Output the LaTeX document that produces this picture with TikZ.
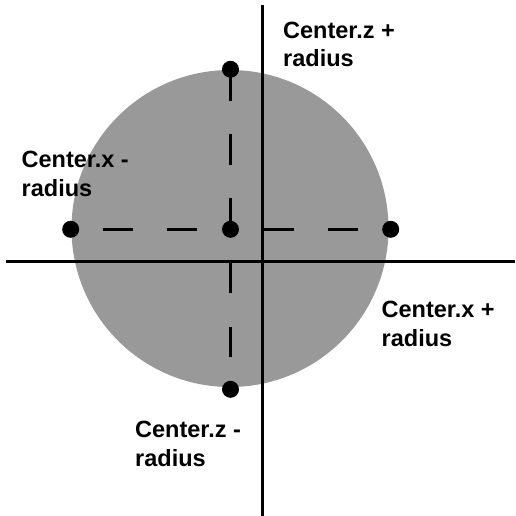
\documentclass[tikz,border=0pt]{standalone}
\usepackage{fontspec}
\setmainfont{Liberation Sans}
\definecolor{discgray}{HTML}{999999}
\tikzset{
  dotnode/.style={circle,fill=black,inner sep=0pt,minimum size=17pt},
  axisline/.style={line width=3pt,black},
  dashline/.style={line width=3pt,black,dash pattern=on 30pt off 34pt},
  lbl/.style={anchor=base west,inner sep=0pt,align=left,font=\bfseries\fontsize{23.5}{28.4}\selectfont}
}
\begin{document}
\begin{tikzpicture}[x=1pt,y=-1pt]
\useasboundingbox (0,0) rectangle (515,516);
\fill[discgray] (230,228.5) circle (158.5);
% axes
\coordinate (vt) at (262,5);
\coordinate (vb) at (262,516);
\coordinate (hl) at (6,261);
\coordinate (hr) at (515,261);
\draw[axisline] (vt) -- (vb);
\draw[axisline] (hl) -- (hr);
% points
\node[dotnode] (ctr) at (230.5,229.3) {};
\node[dotnode] (top) at (230.5,69.3) {};
\node[dotnode] (bot) at (230.5,389.3) {};
\node[dotnode] (lft) at (70.7,229.3) {};
\node[dotnode] (rgt) at (390.7,229.3) {};
% dashed lines
\draw[dashline,dash pattern=on 31pt off 33pt,dash phase=0pt] (ctr.center) -- (top.center);
\draw[dashline,dash phase=30pt] (ctr.center) -- (bot.center);
\draw[dashline,dash phase=32pt] (lft.center) -- (ctr.center);
\draw[dashline,dash phase=31pt] (ctr.center) -- (rgt.center);
% labels (anchor is the baseline of the last line)
\node[lbl] (lzp) at (283,66.7) {Center.z +\\radius};
\node[lbl] (lxm) at (21.5,196.2) {Center.x -\\radius};
\node[lbl] (lxp) at (381.5,346.3) {Center.x +\\radius};
\node[lbl] (lzm) at (135,466.3) {Center.z -\\radius};
\end{tikzpicture}
\end{document}
